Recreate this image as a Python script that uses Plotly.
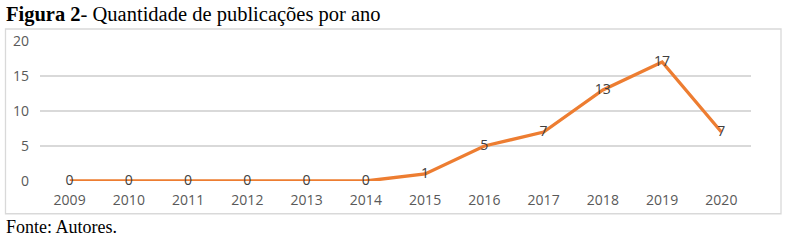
import plotly.graph_objects as go

years = ["2009", "2010", "2011", "2012", "2013", "2014", "2015", "2016", "2017", "2018", "2019", "2020"]
counts = [0, 0, 0, 0, 0, 0, 1, 5, 7, 13, 17, 7]
y_ticks = [0, 5, 10, 15, 20]

W, H = 786, 245
L, R = 40, 751          # plot area left/right in px
T, B = 40.5, 180.7      # plot area top/bottom in px


def px_x(x):
    return (x - L) / (R - L)


def px_y(y):
    return (B - y) / (B - T)


fig = go.Figure()
fig.add_trace(go.Scatter(
    x=years, y=counts,
    mode="lines+text",
    line=dict(color="#ED7D31", width=3.3),
    text=[str(v) for v in counts],
    textposition="middle center",
    textfont=dict(family="Open Sans", size=14, color="#404040"),
    cliponaxis=False,
    hoverinfo="skip",
))

fig.update_layout(
    width=W, height=H,
    margin=dict(l=L, r=W - R, t=T, b=H - B, autoexpand=False),
    paper_bgcolor="white", plot_bgcolor="white",
    showlegend=False,
    xaxis=dict(
        type="category", range=[-0.5, len(years) - 0.5],
        showgrid=False, zeroline=False, showline=False, ticks="",
        ticklabelstandoff=9,
        tickfont=dict(family="Open Sans", size=14, color="#595959"),
    ),
    yaxis=dict(
        range=[0, 20], tickvals=y_ticks, ticktext=[str(v) for v in y_ticks],
        showgrid=True, gridcolor="#D9D9D9", gridwidth=1.3,
        zeroline=False, showline=False, ticks="",
        ticklabelstandoff=10,
        tickfont=dict(family="Open Sans", size=14, color="#595959"),
    ),
    shapes=[dict(
        type="rect", xref="paper", yref="paper",
        x0=px_x(5.5), x1=px_x(781), y0=px_y(213.5), y1=px_y(28.5),
        line=dict(color="#D9D9D9", width=1.3), fillcolor="rgba(0,0,0,0)", layer="below",
    )],
    annotations=[
        dict(
            xref="paper", yref="paper", x=px_x(4), y=px_y(14),
            xanchor="left", yanchor="middle", showarrow=False,
            text="<b>Figura 2</b>- Quantidade de publicações por ano",
            font=dict(family="Liberation Serif", size=20.5, color="black"),
        ),
        dict(
            xref="paper", yref="paper", x=px_x(4), y=px_y(227),
            xanchor="left", yanchor="middle", showarrow=False,
            text="Fonte: Autores.",
            font=dict(family="Liberation Serif", size=18, color="black"),
        ),
    ],
)

fig.write_html(
    "out.html",
    config={"displayModeBar": False, "staticPlot": True},
    post_script="document.body.style.margin='0px';document.body.style.padding='0px';",
)
